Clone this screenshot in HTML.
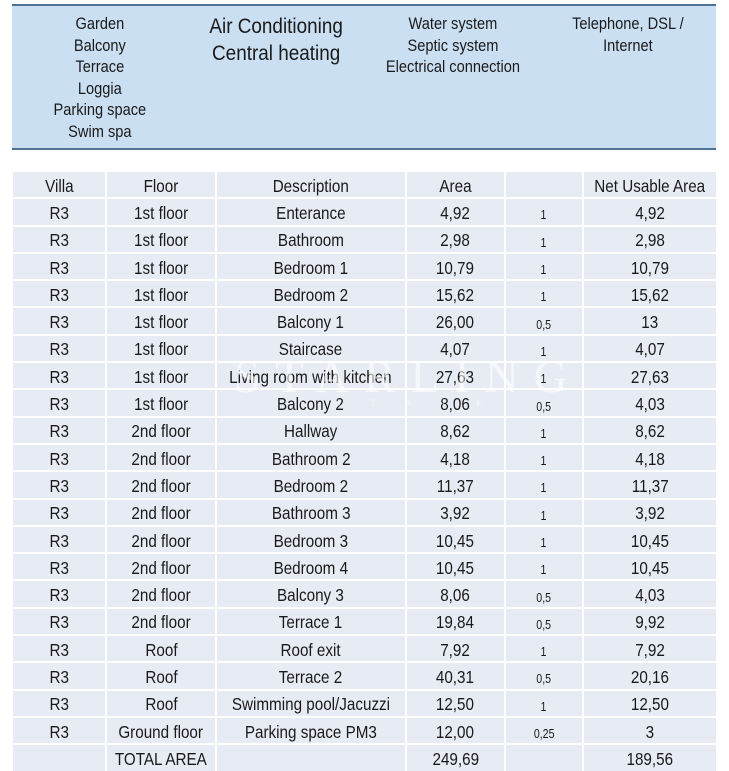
<!DOCTYPE html>
<html>
<head>
<meta charset="utf-8">
<style>
html,body{margin:0;padding:0;background:#fff;}
body{width:729px;height:768px;overflow:hidden;position:relative;font-family:"Liberation Sans",Arial,sans-serif;color:#1a1a1a;}
.box{position:absolute;left:12px;top:4px;width:704px;height:142px;background:#cbdff2;border-top:2px solid #4f7396;border-bottom:2px solid #4f7396;}
.t{position:absolute;text-align:center;white-space:nowrap;}
.t span{display:inline-block;transform:scaleX(0.86);}
.c1{left:0;width:200px;top:13px;font-size:17px;line-height:21.5px;}
.c2{left:176px;width:200px;top:13px;font-size:21px;line-height:27px;}
.c3{left:353px;width:200px;top:13px;font-size:17px;line-height:21.5px;}
.c4{left:528px;width:200px;top:13px;font-size:17px;line-height:21.5px;}
.grid{position:absolute;left:13px;top:172px;width:703px;display:grid;grid-template-columns:92px 108px 187.7px 97.3px 75.7px 132.3px;column-gap:2px;row-gap:2px;grid-auto-rows:25.3px;background:#fff;}
.grid div{background:#e7ebf3;display:flex;align-items:center;justify-content:center;font-size:17.5px;white-space:nowrap;overflow:visible;padding-top:3px;box-sizing:border-box;}
.grid div span{display:inline-block;transform:scaleX(0.87);}
.grid div.r{font-size:12.5px;padding-top:7px;}
.grid div.r span{transform:scaleX(0.85);}
.wm{position:absolute;left:234px;top:350px;font-family:"Liberation Serif",serif;font-size:47px;letter-spacing:15px;color:rgba(255,255,255,0.6);white-space:nowrap;}
.wm2{position:absolute;left:300px;top:398px;font-family:"Liberation Serif",serif;font-size:9px;letter-spacing:30px;color:rgba(255,255,255,0.5);white-space:nowrap;}
</style>
</head>
<body>
<div class="box"></div>
<div class="t c1"><span>Garden<br>Balcony<br>Terrace<br>Loggia<br>Parking space<br>Swim spa</span></div>
<div class="t c2"><span style="transform:scaleX(0.9)">Air Conditioning<br>Central heating</span></div>
<div class="t c3"><span>Water system<br>Septic system<br>Electrical connection</span></div>
<div class="t c4"><span>Telephone, DSL /<br>Internet</span></div>

<div class="grid">
<div><span>Villa</span></div><div><span>Floor</span></div><div><span>Description</span></div><div><span>Area</span></div><div></div><div><span>Net Usable Area</span></div>
<div><span>R3</span></div><div><span>1st floor</span></div><div><span>Enterance</span></div><div><span>4,92</span></div><div class="r"><span>1</span></div><div><span>4,92</span></div>
<div><span>R3</span></div><div><span>1st floor</span></div><div><span>Bathroom</span></div><div><span>2,98</span></div><div class="r"><span>1</span></div><div><span>2,98</span></div>
<div><span>R3</span></div><div><span>1st floor</span></div><div><span>Bedroom 1</span></div><div><span>10,79</span></div><div class="r"><span>1</span></div><div><span>10,79</span></div>
<div><span>R3</span></div><div><span>1st floor</span></div><div><span>Bedroom 2</span></div><div><span>15,62</span></div><div class="r"><span>1</span></div><div><span>15,62</span></div>
<div><span>R3</span></div><div><span>1st floor</span></div><div><span>Balcony 1</span></div><div><span>26,00</span></div><div class="r"><span>0,5</span></div><div><span>13</span></div>
<div><span>R3</span></div><div><span>1st floor</span></div><div><span>Staircase</span></div><div><span>4,07</span></div><div class="r"><span>1</span></div><div><span>4,07</span></div>
<div><span>R3</span></div><div><span>1st floor</span></div><div><span>Living room with kitchen</span></div><div><span>27,63</span></div><div class="r"><span>1</span></div><div><span>27,63</span></div>
<div><span>R3</span></div><div><span>1st floor</span></div><div><span>Balcony 2</span></div><div><span>8,06</span></div><div class="r"><span>0,5</span></div><div><span>4,03</span></div>
<div><span>R3</span></div><div><span>2nd floor</span></div><div><span>Hallway</span></div><div><span>8,62</span></div><div class="r"><span>1</span></div><div><span>8,62</span></div>
<div><span>R3</span></div><div><span>2nd floor</span></div><div><span>Bathroom 2</span></div><div><span>4,18</span></div><div class="r"><span>1</span></div><div><span>4,18</span></div>
<div><span>R3</span></div><div><span>2nd floor</span></div><div><span>Bedroom 2</span></div><div><span>11,37</span></div><div class="r"><span>1</span></div><div><span>11,37</span></div>
<div><span>R3</span></div><div><span>2nd floor</span></div><div><span>Bathroom 3</span></div><div><span>3,92</span></div><div class="r"><span>1</span></div><div><span>3,92</span></div>
<div><span>R3</span></div><div><span>2nd floor</span></div><div><span>Bedroom 3</span></div><div><span>10,45</span></div><div class="r"><span>1</span></div><div><span>10,45</span></div>
<div><span>R3</span></div><div><span>2nd floor</span></div><div><span>Bedroom 4</span></div><div><span>10,45</span></div><div class="r"><span>1</span></div><div><span>10,45</span></div>
<div><span>R3</span></div><div><span>2nd floor</span></div><div><span>Balcony 3</span></div><div><span>8,06</span></div><div class="r"><span>0,5</span></div><div><span>4,03</span></div>
<div><span>R3</span></div><div><span>2nd floor</span></div><div><span>Terrace 1</span></div><div><span>19,84</span></div><div class="r"><span>0,5</span></div><div><span>9,92</span></div>
<div><span>R3</span></div><div><span>Roof</span></div><div><span>Roof exit</span></div><div><span>7,92</span></div><div class="r"><span>1</span></div><div><span>7,92</span></div>
<div><span>R3</span></div><div><span>Roof</span></div><div><span>Terrace 2</span></div><div><span>40,31</span></div><div class="r"><span>0,5</span></div><div><span>20,16</span></div>
<div><span>R3</span></div><div><span>Roof</span></div><div><span>Swimming pool/Jacuzzi</span></div><div><span>12,50</span></div><div class="r"><span>1</span></div><div><span>12,50</span></div>
<div><span>R3</span></div><div><span>Ground floor</span></div><div><span>Parking space PM3</span></div><div><span>12,00</span></div><div class="r"><span>0,25</span></div><div><span>3</span></div>
<div></div><div><span>TOTAL AREA</span></div><div></div><div><span>249,69</span></div><div></div><div><span>189,56</span></div>
</div>
<div class="wm">STARLING</div>
<div class="wm2">ESTATE</div>
</body>
</html>
